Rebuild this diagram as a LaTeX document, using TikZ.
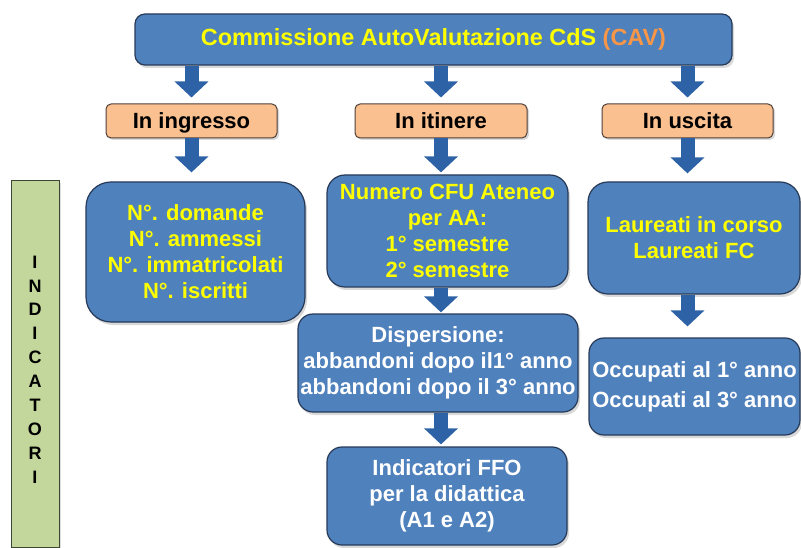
\documentclass[tikz,border=0pt]{standalone}
\usepackage{fontspec}
\setmainfont{Liberation Sans}
\usetikzlibrary{arrows.meta,shadows}
\definecolor{boxblue}{RGB}{79,129,189}
\definecolor{boxline}{RGB}{38,58,88}
\definecolor{arrblue}{RGB}{46,98,166}
\definecolor{txtyel}{RGB}{255,255,0}
\definecolor{cavor}{RGB}{247,150,70}
\definecolor{lblor}{RGB}{250,192,144}
\definecolor{lblline}{RGB}{80,64,56}
\definecolor{barg}{RGB}{195,214,155}
\definecolor{barline}{RGB}{60,70,50}
\tikzset{
  bluebox/.style={draw=boxline, line width=1.2pt, fill=boxblue, rounded corners=#1,
    inner sep=0pt, align=center, font=\bfseries\fontsize{22}{26}\selectfont,
    drop shadow={shadow xshift=2pt, shadow yshift=-3pt, opacity=0.3}},
  lblbox/.style={draw=lblline, line width=1pt, fill=lblor, rounded corners=5pt,
    inner sep=0pt, minimum width=171pt, minimum height=34pt, text=black,
    text height=18pt, text depth=2pt,
    font=\bfseries\fontsize{22}{26}\selectfont,
    drop shadow={shadow xshift=2pt, shadow yshift=-2pt, opacity=0.3}},
  fatarrow/.style={arrblue, line width=14pt, -{Triangle[width=33pt,length=16pt]}},
}
\begin{document}
\begin{tikzpicture}[x=1pt,y=-1pt]
\useasboundingbox (0,0) rectangle (801,548);
% title
\node[bluebox=10pt, minimum width=597pt, minimum height=51pt, text=txtyel,
  font=\bfseries\fontsize{23.4}{28}\selectfont] (cav) at (433.5,39.5)
  {Commissione AutoValutazione CdS \textcolor{cavor}{(CAV)}};
% phase labels
\node[lblbox] (ing) at (191.5,121) {In ingresso};
\node[lblbox, minimum width=172pt] (iti) at (441,121) {In itinere};
\node[lblbox] (usc) at (687.5,121) {In uscita};
% blue boxes
\node[bluebox=25pt, minimum width=219pt, minimum height=140pt, text=txtyel] (dom) at (195.5,252)
  {N°. domande\\N°. ammessi\\N°. immatricolati\\N°. iscritti};
\node[bluebox=18pt, minimum width=241pt, minimum height=112pt, text=txtyel] (cfu) at (447.5,231)
  {Numero CFU Ateneo\\per AA:\\1° semestre\\2° semestre};
\node[bluebox=20pt, minimum width=212pt, minimum height=112pt, text=txtyel] (lau) at (694,238)
  {Laureati in corso\\Laureati FC};
\node[bluebox=15pt, minimum width=280pt, minimum height=98pt, text=white] (dis) at (438,363)
  {Dispersione:\\abbandoni dopo il1° anno\\abbandoni dopo il 3° anno};
\node[bluebox=15pt, minimum width=211pt, minimum height=97pt, text=white] (occ) at (694.5,386.5)
  {Occupati al 1° anno\\[4pt]Occupati al 3° anno};
\node[bluebox=15pt, minimum width=240pt, minimum height=98pt, text=white] (ffo) at (447,496)
  {Indicatori FFO\\per la didattica\\(A1 e A2)};
% side bar
\node[draw=barline, line width=1pt, fill=barg, minimum width=48pt, minimum height=366pt,
  inner sep=0pt, drop shadow={shadow xshift=2pt, shadow yshift=-2pt, opacity=0.25}] (ind) at (35,364) {};
\node[align=center, inner sep=0pt, font=\bfseries\fontsize{18}{23.9}\selectfont] (indtxt) at (35,369.5)
  {I\\N\\D\\I\\C\\A\\T\\O\\R\\I};
% arrows
\draw[fatarrow] (cav.south -| ing.center) -- ([yshift=6pt]ing.north);
\draw[fatarrow] (cav.south -| iti.center) -- ([yshift=6pt]iti.north);
\draw[fatarrow] (cav.south -| usc.center) -- ([yshift=6pt]usc.north);
\draw[fatarrow] (ing.south) -- ([yshift=9pt]dom.north -| ing.south);
\draw[fatarrow] (iti.south) -- ([yshift=2pt]cfu.north -| iti.south);
\draw[fatarrow] (usc.south) -- ([yshift=8pt]lau.north -| usc.south);
\draw[fatarrow] (cfu.south -| iti.south) -- ([yshift=1pt]dis.north -| iti.south);
\draw[fatarrow] (dis.south -| iti.south) -- ([yshift=2pt]ffo.north -| iti.south);
\draw[fatarrow] (lau.south -| usc.south) -- ([yshift=11pt]occ.north -| usc.south);
\end{tikzpicture}
\end{document}
